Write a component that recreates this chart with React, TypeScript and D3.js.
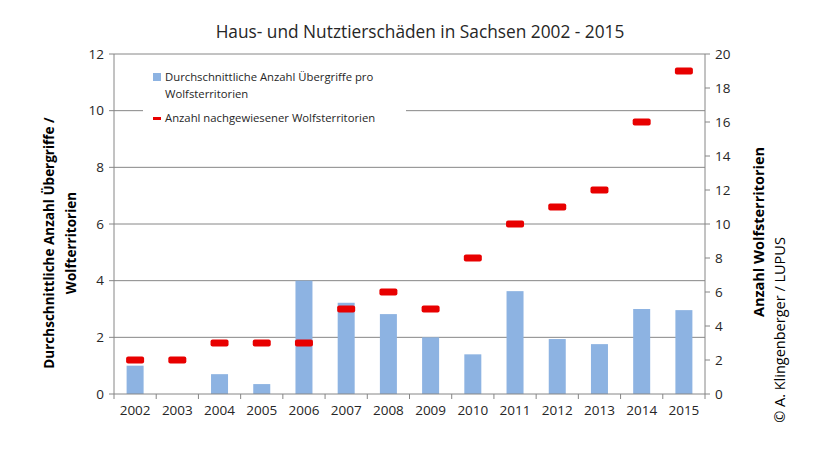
import { useEffect, useRef } from 'react';
import * as d3 from 'd3';

const years = ['2002', '2003', '2004', '2005', '2006', '2007', '2008', '2009', '2010', '2011', '2012', '2013', '2014', '2015'];
// average attacks per wolf territory (left axis)
const attacks = [1.0, 0, 0.7, 0.35, 4.0, 3.22, 2.82, 2.0, 1.4, 3.63, 1.94, 1.76, 3.0, 2.96];
// number of confirmed territories (right axis)
const territories = [2, 2, 3, 3, 3, 5, 6, 5, 8, 10, 11, 12, 16, 19];
const leftTicks = [0, 2, 4, 6, 8, 10, 12];
const rightTicks = [0, 2, 4, 6, 8, 10, 12, 14, 16, 18, 20];

const W = 819;
const H = 454;
const FONT = '"Open Sans", "Noto Sans", sans-serif';

export default function App() {
  const svgRef = useRef<SVGSVGElement>(null);

  useEffect(() => {
    if (!svgRef.current) return;
    const svg = d3.select(svgRef.current);
    svg.selectAll('*').remove();

    const left = 114, right = 705, top = 54, bottom = 394;
    const axisColor = '#868686';

    const x = d3.scaleBand().domain(years).range([left, right]).paddingInner(0).paddingOuter(0);
    const yL = d3.scaleLinear().domain([0, 12]).range([bottom, top]);
    const yR = d3.scaleLinear().domain([0, 20]).range([bottom, top]);

    svg.append('rect').attr('width', W).attr('height', H).attr('fill', '#fff');

    // gridlines
    svg.append('g').selectAll('line').data(leftTicks.filter((d) => d > 0)).enter().append('line')
      .attr('x1', left).attr('x2', right)
      .attr('y1', (d) => yL(d)).attr('y2', (d) => yL(d))
      .attr('stroke', axisColor).attr('stroke-width', 1);

    // bars
    const bw = 17;
    svg.append('g').selectAll('rect').data(attacks).enter().append('rect')
      .attr('x', (_, i) => x(years[i])! + x.bandwidth() / 2 - bw / 2)
      .attr('y', (d) => yL(d))
      .attr('width', bw)
      .attr('height', (d) => bottom - yL(d))
      .attr('fill', '#8DB3E2');

    // red dashes
    svg.append('g').selectAll('rect').data(territories).enter().append('rect')
      .attr('x', (_, i) => x(years[i])! + x.bandwidth() / 2 - 9)
      .attr('y', (d) => yR(d) - 3.5)
      .attr('width', 18)
      .attr('height', 7)
      .attr('rx', 2)
      .attr('fill', '#E80000');

    // axes
    const ax = svg.append('g').attr('stroke', axisColor).attr('stroke-width', 1);
    ax.append('line').attr('x1', left).attr('x2', left).attr('y1', top).attr('y2', bottom);
    ax.append('line').attr('x1', right).attr('x2', right).attr('y1', top).attr('y2', bottom);
    ax.append('line').attr('x1', left).attr('x2', right).attr('y1', bottom).attr('y2', bottom);
    leftTicks.forEach((t) => {
      ax.append('line').attr('x1', left - 5).attr('x2', left).attr('y1', yL(t)).attr('y2', yL(t));
    });
    rightTicks.forEach((t) => {
      ax.append('line').attr('x1', right).attr('x2', right + 5).attr('y1', yR(t)).attr('y2', yR(t));
    });
    years.forEach((yr) => {
      const xx = x(yr)!;
      ax.append('line').attr('x1', xx).attr('x2', xx).attr('y1', bottom).attr('y2', bottom + 5);
    });
    ax.append('line').attr('x1', right).attr('x2', right).attr('y1', bottom).attr('y2', bottom + 5);

    const txt = svg.append('g').attr('font-family', FONT).attr('fill', '#262626');
    leftTicks.forEach((t) => {
      txt.append('text').attr('x', left - 10).attr('y', yL(t)).attr('dy', '0.35em')
        .attr('text-anchor', 'end').attr('font-size', 13.5).text(t);
    });
    rightTicks.forEach((t) => {
      txt.append('text').attr('x', right + 10).attr('y', yR(t)).attr('dy', '0.35em')
        .attr('text-anchor', 'start').attr('font-size', 13.5).text(t);
    });
    years.forEach((yr) => {
      txt.append('text').attr('x', x(yr)! + x.bandwidth() / 2).attr('y', bottom + 21)
        .attr('text-anchor', 'middle').attr('font-size', 13.5).text(yr);
    });

    // title
    txt.append('text').attr('x', 420).attr('y', 38).attr('text-anchor', 'middle')
      .attr('font-size', 17.3).text('Haus- und Nutztierschäden in Sachsen 2002 - 2015');

    // left axis title
    const lt = txt.append('text')
      .attr('font-weight', 'bold').attr('font-size', 13.5).attr('text-anchor', 'middle')
      .attr('fill', '#000');
    lt.append('tspan').attr('x', 0).attr('y', 0).text('Durchschnittliche Anzahl Übergriffe /');
    lt.append('tspan').attr('x', 0).attr('y', 22).text('Wolfterritorien');
    lt.attr('transform', 'translate(54,243) rotate(-90)');

    // right axis title
    txt.append('text').attr('transform', 'translate(764,232) rotate(-90)')
      .attr('font-weight', 'bold').attr('font-size', 14.5).attr('text-anchor', 'middle')
      .attr('fill', '#000').text('Anzahl Wolfsterritorien');

    txt.append('text').attr('transform', 'translate(785,330) rotate(-90)')
      .attr('font-size', 14.5).attr('text-anchor', 'middle')
      .attr('fill', '#000').text('© A. Klingenberger / LUPUS');

    // legend
    const lg = svg.append('g').attr('font-family', FONT).attr('font-size', 11.3).attr('fill', '#262626');
    lg.append('rect').attr('x', 143).attr('y', 62).attr('width', 263).attr('height', 68).attr('fill', '#fff');
    lg.append('rect').attr('x', 153).attr('y', 73).attr('width', 8).attr('height', 8).attr('fill', '#8DB3E2');
    lg.append('text').attr('x', 165).attr('y', 81).text('Durchschnittliche Anzahl Übergriffe pro');
    lg.append('text').attr('x', 165).attr('y', 98).text('Wolfsterritorien');
    lg.append('rect').attr('x', 153).attr('y', 117).attr('width', 8).attr('height', 3).attr('fill', '#E80000');
    lg.append('text').attr('x', 165).attr('y', 122).text('Anzahl nachgewiesener Wolfsterritorien');
  }, []);

  return <svg ref={svgRef} width={W} height={H} style={{ display: 'block', margin: -8 }} />;
}
